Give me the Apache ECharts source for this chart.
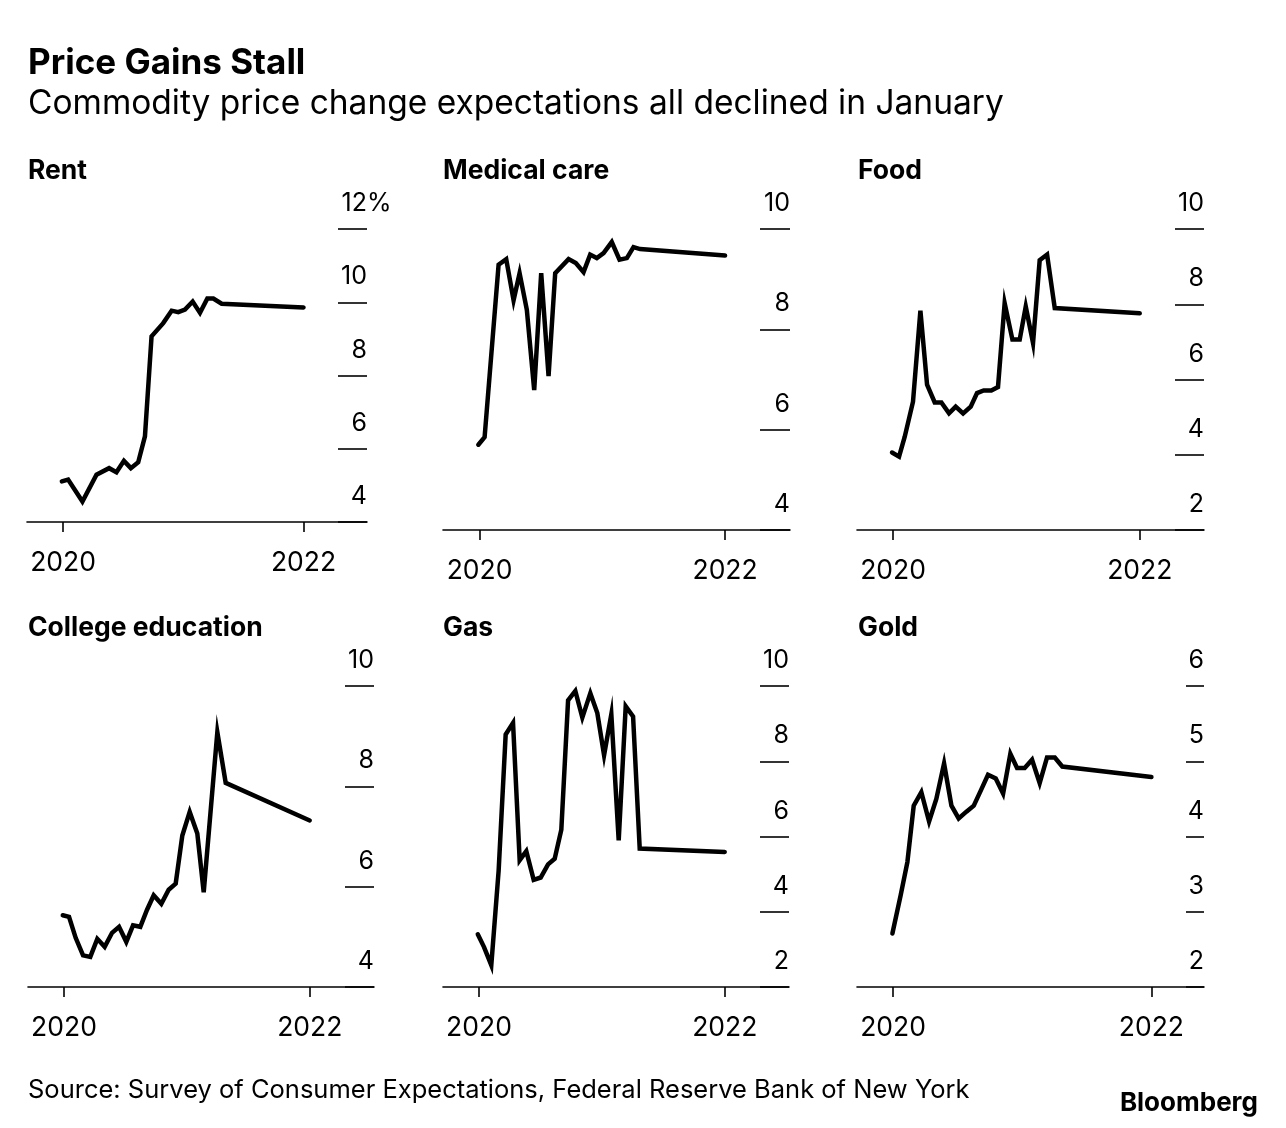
<!DOCTYPE html>
<html>
<head>
<meta charset="utf-8">
<script src="https://cdn.jsdelivr.net/npm/echarts@6.0.0/dist/echarts.min.js"></script>
<style>
html,body{margin:0;padding:0;background:#fff;}
#c{width:1286px;height:1128px;}
</style>
</head>
<body>
<div id="c"></div>
<script>
// ---------------- data ----------------
const panelTitles = ['Rent', 'Medical care', 'Food', 'College education', 'Gas', 'Gold'];
const xTickYears = [2020, 2022];

const rentTime = [2019.99, 2020.042, 2020.161, 2020.278, 2020.383, 2020.444, 2020.506, 2020.564, 2020.625, 2020.681, 2020.736, 2020.833, 2020.903, 2020.958, 2021.014, 2021.078, 2021.139, 2021.2, 2021.25, 2021.319, 2022.0];
const rentValues = [5.11, 5.16, 4.56, 5.29, 5.47, 5.36, 5.67, 5.47, 5.63, 6.34, 9.07, 9.43, 9.77, 9.73, 9.80, 10.02, 9.71, 10.10, 10.10, 9.96, 9.86];

const medicalTime = [2019.99, 2020.041, 2020.155, 2020.217, 2020.277, 2020.326, 2020.385, 2020.445, 2020.502, 2020.562, 2020.616, 2020.725, 2020.784, 2020.847, 2020.901, 2020.955, 2021.01, 2021.077, 2021.14, 2021.2, 2021.254, 2021.308, 2022.0];
const medicalValues = [5.70, 5.85, 9.29, 9.40, 8.58, 9.12, 8.39, 6.79, 9.12, 7.07, 9.12, 9.40, 9.32, 9.14, 9.49, 9.42, 9.52, 9.74, 9.39, 9.42, 9.64, 9.60, 9.47];

const foodTime = [2019.992, 2020.049, 2020.095, 2020.162, 2020.222, 2020.276, 2020.338, 2020.392, 2020.454, 2020.508, 2020.568, 2020.63, 2020.681, 2020.735, 2020.797, 2020.851, 2020.905, 2020.968, 2021.027, 2021.076, 2021.135, 2021.189, 2021.249, 2021.311, 2022.0];
const foodValues = [4.06, 3.95, 4.48, 5.41, 7.83, 5.86, 5.39, 5.39, 5.10, 5.28, 5.10, 5.28, 5.64, 5.71, 5.71, 5.80, 8.03, 7.06, 7.06, 7.94, 6.97, 9.17, 9.32, 7.90, 7.76];

const collegeTime = [2019.99, 2020.041, 2020.095, 2020.155, 2020.214, 2020.271, 2020.331, 2020.391, 2020.448, 2020.507, 2020.562, 2020.621, 2020.676, 2020.730, 2020.792, 2020.852, 2020.909, 2020.963, 2021.023, 2021.085, 2021.137, 2021.248, 2021.316, 2022.0];
const collegeValues = [5.43, 5.40, 4.98, 4.63, 4.60, 4.96, 4.80, 5.08, 5.20, 4.90, 5.23, 5.20, 5.54, 5.83, 5.66, 5.94, 6.06, 7.02, 7.49, 7.06, 5.89, 9.08, 8.07, 7.32];

const gasTime = [2019.99, 2020.041, 2020.1, 2020.16, 2020.217, 2020.277, 2020.331, 2020.385, 2020.445, 2020.502, 2020.562, 2020.616, 2020.67, 2020.725, 2020.784, 2020.841, 2020.906, 2020.963, 2021.018, 2021.077, 2021.137, 2021.194, 2021.254, 2021.308, 2022.0];
const gasValues = [3.40, 3.06, 2.58, 5.10, 8.71, 9.02, 5.37, 5.61, 4.85, 4.91, 5.26, 5.41, 6.18, 9.62, 9.87, 9.16, 9.81, 9.28, 8.16, 9.25, 5.90, 9.46, 9.19, 5.68, 5.59];

const goldTime = [2019.995, 2020.059, 2020.111, 2020.16, 2020.219, 2020.279, 2020.335, 2020.395, 2020.452, 2020.508, 2020.568, 2020.625, 2020.679, 2020.735, 2020.795, 2020.852, 2020.908, 2020.96, 2021.019, 2021.076, 2021.135, 2021.192, 2021.252, 2021.31, 2022.0];
const goldValues = [2.71, 3.22, 3.66, 4.41, 4.59, 4.20, 4.50, 4.97, 4.41, 4.24, 4.33, 4.41, 4.61, 4.82, 4.77, 4.57, 5.10, 4.91, 4.91, 5.02, 4.71, 5.05, 5.05, 4.93, 4.79];

const yMin = [4, 4, 2, 4, 2, 2];
const yMax = [12, 10, 10, 10, 10, 6];
const yStep = [2, 2, 2, 2, 2, 1];
const xMin = [2019.70, 2019.702, 2019.708, 2019.707, 2019.707, 2019.721];
const xMax = [2022.528, 2022.529, 2022.521, 2022.523, 2022.523, 2022.407];

// ---------------- layout ----------------
const FONT = 'Inter, "Liberation Sans", Arial, sans-serif';
const grids = [
  {left: 27,  top: 229, width: 340, height: 293},
  {left: 443, top: 229, width: 347, height: 301},
  {left: 857, top: 229, width: 347, height: 301},
  {left: 28,  top: 686, width: 346, height: 301},
  {left: 443, top: 686, width: 346, height: 301},
  {left: 857, top: 686, width: 347, height: 301}
];
const tickLen = [29, 30, 29, 29, 29, 18];
const titlePos = [[28, 171], [443, 171], [858, 628 - 457], [28, 628], [443, 628], [858, 628]];

const seriesData = [
  [rentTime, rentValues], [medicalTime, medicalValues], [foodTime, foodValues],
  [collegeTime, collegeValues], [gasTime, gasValues], [goldTime, goldValues]
];

const xAxes = [], yAxes = [], series = [], graphics = [];
grids.forEach((g, i) => {
  xAxes.push({
    type: 'value', gridIndex: i, min: xMin[i], max: xMax[i],
    splitLine: {show: false},
    axisLine: {show: true, lineStyle: {color: '#000', width: 1.6}},
    axisTick: {show: true, customValues: xTickYears, length: 10, lineStyle: {color: '#000', width: 1.6}},
    axisLabel: {show: true, customValues: xTickYears, formatter: v => String(v), margin: 28,
      color: '#000', fontFamily: FONT, fontSize: 26.5}
  });
  yAxes.push({
    type: 'value', gridIndex: i, position: 'right', min: yMin[i], max: yMax[i], interval: yStep[i],
    splitLine: {show: false},
    axisLine: {show: false},
    axisTick: {show: true, inside: true, length: tickLen[i], lineStyle: {color: '#000', width: 1.6}},
    axisLabel: {show: true, inside: true, margin: 0, align: 'right', verticalAlign: 'bottom',
      padding: [0, 0, 13, 0], showMinLabel: true, showMaxLabel: true,
      color: '#000', fontFamily: FONT, fontSize: 25, formatter: v => String(v)}
  });
  series.push({
    type: 'line', xAxisIndex: i, yAxisIndex: i, showSymbol: false, symbol: 'none',
    data: seriesData[i][0].map((t, k) => [t, seriesData[i][1][k]]),
    lineStyle: {color: '#000', width: 4.5, join: 'miter', cap: 'round'},
    silent: true
  });
  graphics.push({
    type: 'text', left: titlePos[i][0], top: titlePos[i][1] - 13,
    style: {text: panelTitles[i], fill: '#000', font: 'bold 26.5px ' + FONT}
  });
});

// percent sign after the top label of the first panel (separate axis sharing the scale)
yAxes.push({
  type: 'value', gridIndex: 0, position: 'right', min: yMin[0], max: yMax[0], interval: yStep[0],
  splitLine: {show: false}, axisLine: {show: false}, axisTick: {show: false},
  axisLabel: {show: true, inside: false, margin: 0, align: 'left', verticalAlign: 'bottom',
    padding: [0, 0, 13, 0], showMaxLabel: true,
    color: '#000', fontFamily: FONT, fontSize: 25,
    formatter: v => (v === yMax[0] ? '%' : '')}
});

graphics.push(
  {type: 'text', left: 28, top: 46, style: {text: 'Price Gains Stall', fill: '#000', font: 'bold 35px ' + FONT}},
  {type: 'text', left: 28, top: 87, style: {text: 'Commodity price change expectations all declined in January', fill: '#000', font: '33.5px ' + FONT}},
  {type: 'text', left: 28, top: 1077, style: {text: 'Source: Survey of Consumer Expectations, Federal Reserve Bank of New York', fill: '#000', font: '25.5px ' + FONT}},
  {type: 'text', right: 28, top: 1090, style: {text: 'Bloomberg', fill: '#000', font: 'bold 26px ' + FONT}}
);

const chart = echarts.init(document.getElementById('c'));
chart.setOption({
  animation: false,
  backgroundColor: '#fff',
  grid: grids,
  xAxis: xAxes,
  yAxis: yAxes,
  series: series,
  graphic: graphics
});
</script>
</body>
</html>
